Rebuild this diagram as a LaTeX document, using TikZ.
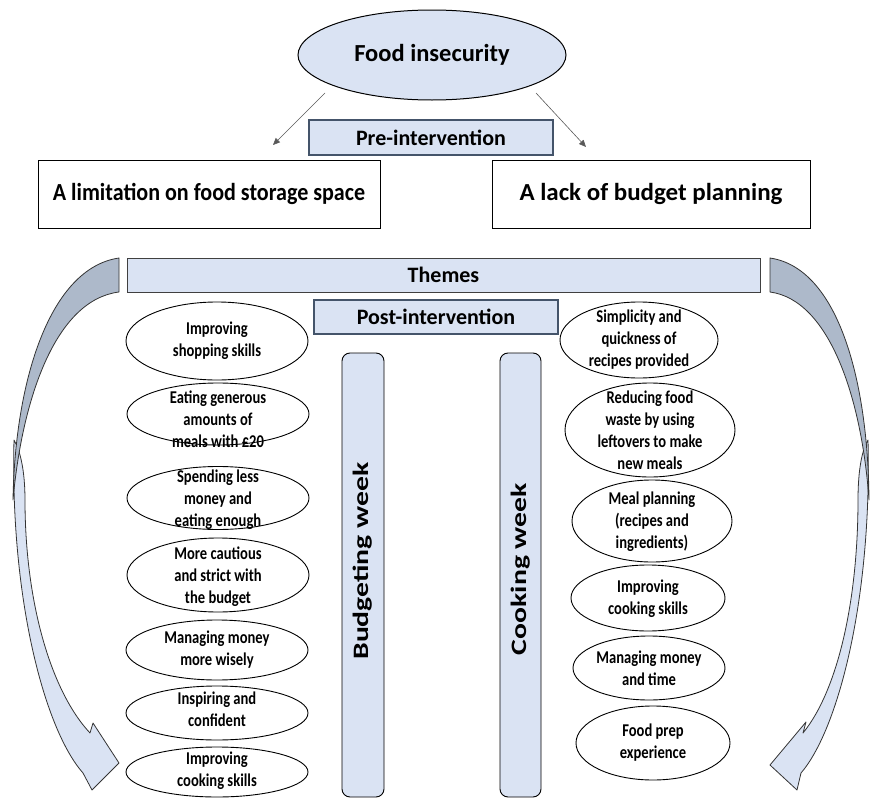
\documentclass[tikz,border=0pt]{standalone}
\usepackage{fontspec}
\setmainfont{Carlito}
\newfontfamily\narrowfont{Carlito}[FakeStretch=0.81]
\newfontfamily\widefont{Carlito}[FakeStretch=1.35]
\newfontfamily\leftheadfont{Carlito}[FakeStretch=0.9]
\newfontfamily\rightheadfont{Carlito}[FakeStretch=1.02]
\usetikzlibrary{shapes.geometric, arrows.meta}

\definecolor{paleblue}{HTML}{DAE3F3}
\definecolor{slateblue}{HTML}{ADB9CA}
\definecolor{frame}{HTML}{44546A}
\definecolor{linegray}{HTML}{595959}

\tikzset{
  every node/.style={inner sep=0pt, outer sep=0pt},
  headbox/.style={draw=black, line width=0.8pt, fill=white},
  bandbox/.style={draw=frame, line width=1.2pt, fill=paleblue},
  ell/.style={ellipse, draw=black, line width=0.9pt, fill=white},
  etext/.style={align=center, font=\narrowfont\bfseries\fontsize{18}{22}\selectfont},
  weekbar/.style={draw=black, line width=0.9pt, fill=paleblue, rounded corners=8pt},
  weektext/.style={rotate=90, font=\widefont\bfseries\fontsize{22}{26}\selectfont},
  headtext/.style={font=\bfseries\fontsize{22}{26}\selectfont},
  thinarrow/.style={draw=linegray, line width=0.6pt, -{Triangle[length=7pt,width=6pt]}},
  bandback/.style={fill=slateblue, draw=black!80, line width=0.8pt, line join=round},
  bandfront/.style={fill=paleblue, draw=black!80, line width=0.8pt, line join=round},
}

\begin{document}
\begin{tikzpicture}[x=1pt, y=-1pt]
\useasboundingbox (0,0) rectangle (871,798);

% ---- top: problem and its two causes ----
\node[ellipse, draw=black, line width=1pt, fill=paleblue,
      minimum width=268pt, minimum height=90pt,
      font=\bfseries\fontsize{24.5}{28}\selectfont] (fi) at (432,55) {Food insecurity};
\node[bandbox, minimum width=244pt, minimum height=35pt, headtext] (pre) at (431,137.5) {Pre-intervention};
\node[headbox, minimum width=342pt, minimum height=68pt,
      font=\leftheadfont\bfseries\fontsize{24.5}{28}\selectfont] (lb) at (209,194) {A limitation on food storage space};
\node[headbox, minimum width=318pt, minimum height=68pt,
      font=\rightheadfont\bfseries\fontsize{24.5}{28}\selectfont] (rb) at (651,194) {A lack of budget planning};

\coordinate (p1) at (325,93);
\coordinate (q1) at (273,145);
\coordinate (p2) at (536,93);
\coordinate (q2) at (586,147);
\draw[thinarrow] (p1) -- (q1);
\draw[thinarrow] (p2) -- (q2);

% ---- curved side arrows ----
% left: front band, then the shaded back
\path[bandfront] (14,440) .. controls (10,600) and (45,730) .. (83,773)
  -- (92,790) -- (119,763) -- (93,723) -- (90,733)
  .. controls (50,690) and (25,600) .. (25,500)
  .. controls (25,470) and (20,450) .. (14,440) -- cycle;
\path[bandback] (119,258) .. controls (50,268) and (15,380) .. (13,500)
  .. controls (22,400) and (55,300) .. (119,292) -- cycle;
% right: front band, then the shaded back
\path[bandfront] (868,440) .. controls (872,600) and (838,730) .. (801,773)
  -- (797,790) -- (770,765) -- (806,722) -- (803,733)
  .. controls (838,690) and (858,600) .. (858,500)
  .. controls (858,470) and (862,450) .. (868,440) -- cycle;
\path[bandback] (770,258) .. controls (838,268) and (868,380) .. (869,500)
  .. controls (862,400) and (830,300) .. (770,292) -- cycle;

% ---- theme bands ----
\node[draw=black!75, line width=1pt, fill=paleblue, minimum width=633pt, minimum height=34pt, headtext] (themes) at (443.5,275) {Themes};
\node[bandbox, minimum width=244pt, minimum height=34pt, headtext] (post) at (436,317) {Post-intervention};

% ---- week bars ----
\node[weekbar, minimum width=42pt, minimum height=444pt] (bud) at (363,575) {};
\node[weekbar, minimum width=41pt, minimum height=444pt] (cook) at (520.5,575) {};
\node[weektext] (budt) at (363,561) {Budgeting week};
\node[weektext] (cookt) at (520.5,569) {Cooking week};

% ---- budgeting week themes ----
\node[ell, minimum width=182pt, minimum height=78pt] (L1) at (217,341) {};
\node[ell, minimum width=182pt, minimum height=62pt] (L2) at (218,414) {};
\node[ell, minimum width=182pt, minimum height=63pt] (L3) at (218,498) {};
\node[ell, minimum width=182pt, minimum height=74pt] (L4) at (218,575) {};
\node[ell, minimum width=182pt, minimum height=60pt] (L5) at (217,650) {};
\node[ell, minimum width=182pt, minimum height=54pt] (L6) at (217,713) {};
\node[ell, minimum width=182pt, minimum height=50pt] (L7) at (217,772) {};
\node[etext] (L1t) at (217,341) {Improving\\shopping skills};
\node[etext] (L2t) at (218,419) {Eating generous\\amounts of\\meals with £20};
\node[etext] (L3t) at (218,500) {Spending less\\money and\\eating enough};
\node[etext] (L4t) at (218,577) {More cautious\\and strict with\\the budget};
\node[etext] (L5t) at (217,650) {Managing money\\more wisely};
\node[etext] (L6t) at (217,709) {Inspiring and\\confident};
\node[etext] (L7t) at (217,771) {Improving\\cooking skills};

% ---- cooking week themes ----
\node[ell, minimum width=158pt, minimum height=76pt] (R1) at (639,340) {};
\node[ell, minimum width=170pt, minimum height=94pt] (R2) at (650,430) {};
\node[ell, minimum width=160pt, minimum height=82pt] (R3) at (652,521) {};
\node[ell, minimum width=154pt, minimum height=66pt] (R4) at (648,598) {};
\node[ell, minimum width=152pt, minimum height=64pt] (R5) at (649,668) {};
\node[ell, minimum width=154pt, minimum height=74pt] (R6) at (653,743) {};
\node[etext] (R1t) at (639,340) {Simplicity and\\quickness of\\recipes provided};
\node[etext] (R2t) at (650,430) {Reducing food\\waste by using\\leftovers to make\\new meals};
\node[etext] (R3t) at (652,522) {Meal planning\\(recipes and\\ingredients)};
\node[etext] (R4t) at (648,599) {Improving\\cooking skills};
\node[etext] (R5t) at (649,668) {Managing money\\and time};
\node[etext] (R6t) at (653,743) {Food prep\\experience};
\end{tikzpicture}
\end{document}
